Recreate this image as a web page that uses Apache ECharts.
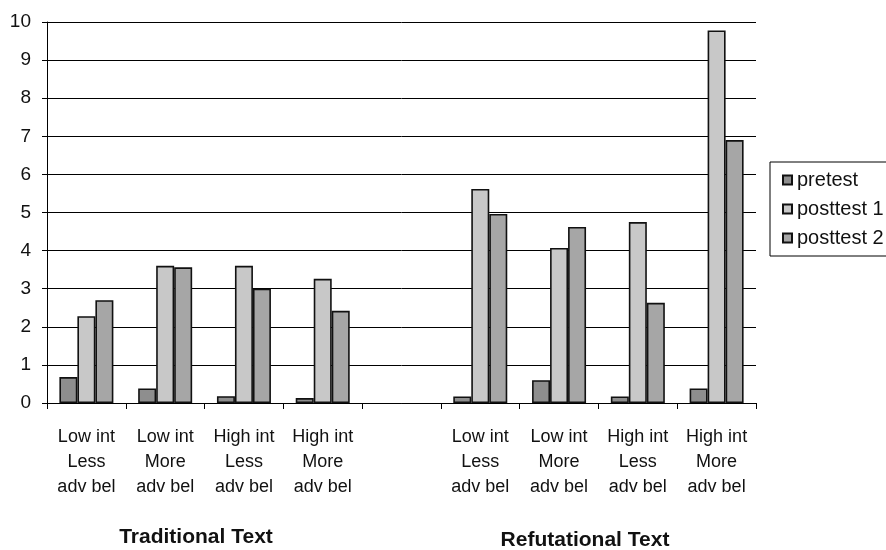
<!DOCTYPE html>
<html>
<head>
<meta charset="utf-8">
<script src="https://cdn.jsdelivr.net/npm/echarts@6/dist/echarts.min.js"></script>
<style>
html, body { margin: 0; padding: 0; background: #fff; }
#chart { width: 886px; height: 550px; }
</style>
</head>
<body>
<div id="chart"></div>
<script>
// categories: 4 traditional, blank spacer, 4 refutational
var categories = [
    'Low int\nLess\nadv bel', 'Low int\nMore\nadv bel', 'High int\nLess\nadv bel', 'High int\nMore\nadv bel',
    '',
    'Low int\nLess\nadv bel', 'Low int\nMore\nadv bel', 'High int\nLess\nadv bel', 'High int\nMore\nadv bel'
];
var pretest   = [0.68, 0.38, 0.18, 0.13, '-', 0.17, 0.6, 0.17, 0.38];
var posttest1 = [2.28, 3.6, 3.6, 3.26, '-', 5.62, 4.07, 4.75, 9.78];
var posttest2 = [2.7, 3.56, 3.0, 2.42, '-', 4.96, 4.62, 2.63, 6.9];
var yTicks = [0, 10, 1]; // min, max, step

var chart = echarts.init(document.getElementById('chart'));
var font = 'Arial, "Liberation Sans", sans-serif';

function barSeries(name, data, color) {
    return {
        name: name,
        type: 'bar',
        data: data,
        barWidth: 18,
        barGap: 0,
        itemStyle: { color: color, borderColor: '#111', borderWidth: 1.6 }
    };
}

var option = {
    animation: false,
    backgroundColor: '#fff',
    textStyle: { fontFamily: font },
    grid: { left: 47, right: 130, top: 22, bottom: 147 },
    legend: {
        orient: 'vertical',
        left: 770,
        top: 162,
        icon: 'rect',
        itemWidth: 9,
        itemHeight: 9,
        itemGap: 9,
        borderColor: '#000',
        borderWidth: 1,
        padding: [8, 30, 8, 12],
        textStyle: { fontSize: 20, color: '#111', fontFamily: font },
        data: ['pretest', 'posttest 1', 'posttest 2']
    },
    xAxis: {
        type: 'category',
        data: categories,
        axisLine: { lineStyle: { color: '#000', width: 1 } },
        axisTick: { show: true, length: 6, lineStyle: { color: '#000' } },
        axisLabel: { interval: 0, fontSize: 18, lineHeight: 25, color: '#111', margin: 22 }
    },
    yAxis: {
        type: 'value',
        min: yTicks[0],
        max: yTicks[1],
        interval: yTicks[2],
        axisLine: { show: true, lineStyle: { color: '#000', width: 1 } },
        axisTick: { show: true, length: 5, lineStyle: { color: '#000' } },
        axisLabel: { fontSize: 19, color: '#111', margin: 16 },
        splitLine: { lineStyle: { color: '#000', width: 1 } }
    },
    graphic: [
        { type: 'text', x: 196, y: 537, style: { text: 'Traditional Text', font: 'bold 21px ' + font, fill: '#111', textAlign: 'center', textVerticalAlign: 'middle' } },
        { type: 'text', x: 585, y: 540, style: { text: 'Refutational Text', font: 'bold 21px ' + font, fill: '#111', textAlign: 'center', textVerticalAlign: 'middle' } }
    ],
    series: [
        barSeries('pretest', pretest, '#8e8e8e'),
        barSeries('posttest 1', posttest1, '#c8c8c8'),
        barSeries('posttest 2', posttest2, '#a6a6a6')
    ]
};
chart.setOption(option);
</script>
</body>
</html>
